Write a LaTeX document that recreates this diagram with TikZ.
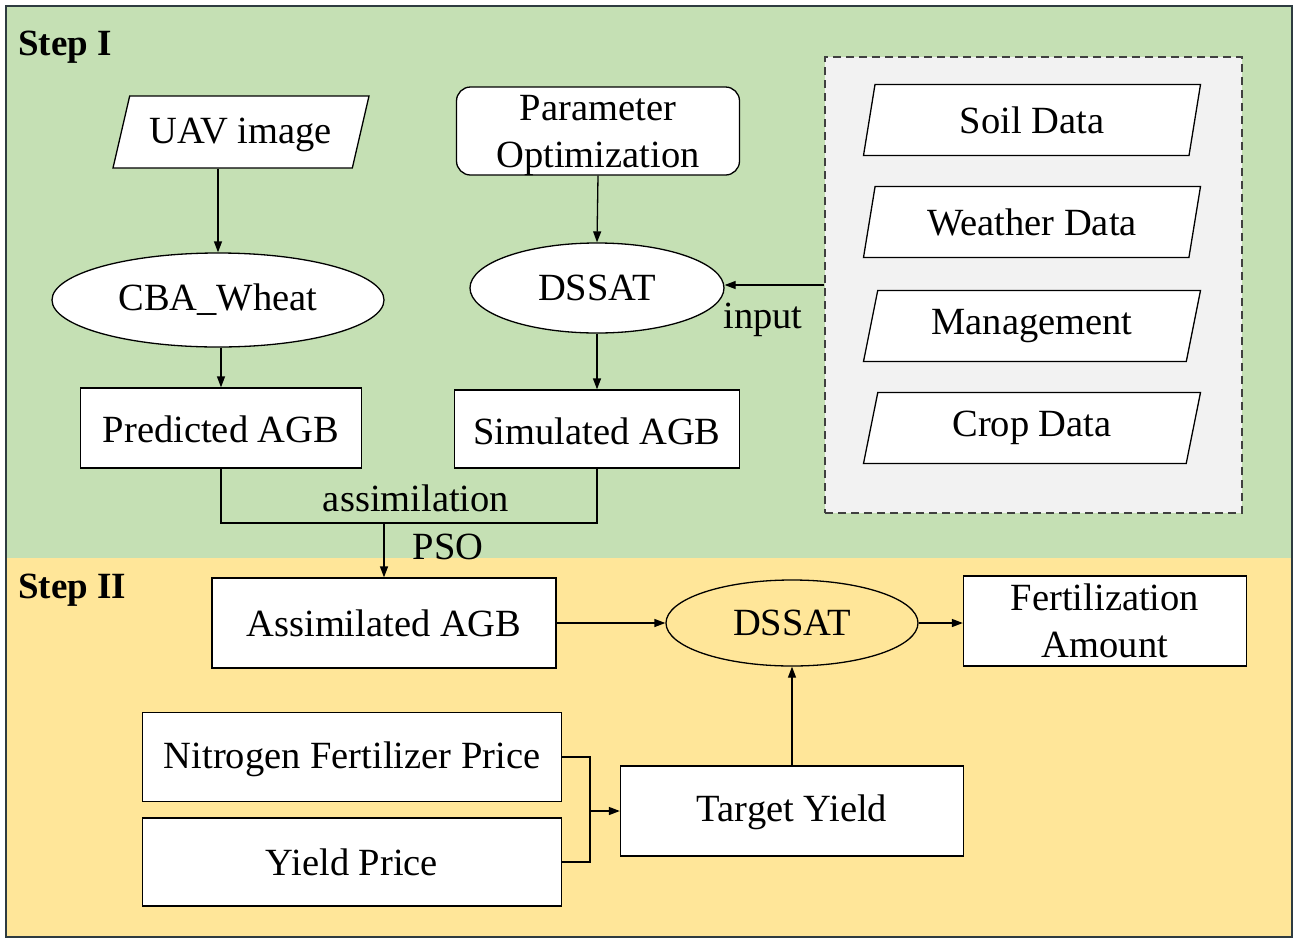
\documentclass[tikz,border=0pt]{standalone}
\usepackage{fontspec}
\setmainfont{Liberation Serif}
\usetikzlibrary{shapes.geometric,arrows.meta}
\definecolor{stepgreen}{HTML}{C5E0B4}
\definecolor{stepyellow}{HTML}{FFE699}
\definecolor{panelgray}{HTML}{F2F2F2}
\definecolor{frame}{HTML}{2E3B40}
\begin{document}
\begin{tikzpicture}[x=1pt,y=-1pt,
  every node/.style={font=\fontsize{38.5}{47}\selectfont, inner sep=0pt},
  box/.style={draw, fill=white, line width=1.3pt},
  iobox/.style={draw, fill=white, line width=1.3pt, trapezium, trapezium left angle=67, trapezium right angle=113, trapezium stretches body},
  oval/.style={draw, ellipse, line width=1.3pt},
  link/.style={line width=1.3pt},
  conn/.style={line width=1.3pt, -{Triangle[length=11pt,width=8pt]}},
  steplabel/.style={anchor=west, font=\fontsize{37}{44}\selectfont\bfseries}
]
\useasboundingbox (0,0) rectangle (1299,943);
% backgrounds
\fill[stepgreen] (6,6) rectangle (1292,558);
\fill[stepyellow] (6,558) rectangle (1292,937);
\draw[frame, line width=2pt] (6,6) rectangle (1292,937);
\node[steplabel] (s1) at (18,47) {Step I};
\node[steplabel] (s2) at (18,590) {Step II};
% input panel
\node[draw=black!75, dashed, dash pattern=on 8pt off 5pt, fill=panelgray, line width=1.3pt, minimum width=417, minimum height=456] (panel) at (1033.5,285) {};
\node[iobox, minimum width=337, minimum height=71] (soil) at (1032,120) {Soil Data};
\node[iobox, minimum width=337, minimum height=71] (weather) at (1032,222) {Weather Data};
\node[iobox, minimum width=337, minimum height=71] (mgmt) at (1032,326) {Management};
\node[iobox, minimum width=337, minimum height=71] (crop) at (1032,428) {Crop Data};
% step I
\node[iobox, minimum width=256, minimum height=72] (uav) at (241,132) {\rule{0pt}{31pt}UAV image};
\node[box, rounded corners=14pt, minimum width=283, minimum height=88] (param) at (598,131) {};
\node[align=center] (paramtext) at (598,135) {Parameter\\Optimization};
\node[oval, fill=white, minimum width=332, minimum height=94] (cba) at (218,300) {CBA\_Wheat};
\node[oval, fill=white, minimum width=254, minimum height=90] (dssat1) at (597,288) {DSSAT};
\node[box, minimum width=281, minimum height=80] (pred) at (221,428) {\rule{0pt}{30pt}Predicted AGB};
\node[box, minimum width=285, minimum height=78] (sim) at (597,429) {\rule{0pt}{31pt}Simulated AGB};
\node (assimlab) at (416,498) {assimilation};
\node (psolab) at (448,547) {PSO};
\node (inputlab) at (763,320) {input};
% step II
\node[box, minimum width=344, minimum height=90] (assim) at (384,623) {Assimilated AGB};
\node[oval, fill=stepyellow, minimum width=252, minimum height=86] (dssat2) at (792,623) {DSSAT};
\node[box, minimum width=283, minimum height=90, align=center] (fert) at (1105,621) {Fertilization\\Amount};
\node[box, minimum width=419, minimum height=89] (nit) at (352,757) {\rule{0pt}{31pt}Nitrogen Fertilizer Price};
\node[box, minimum width=419, minimum height=88] (yp) at (352,862) {Yield Price};
\node[box, minimum width=343, minimum height=90] (ty) at (792,811) {\rule{0pt}{30pt}Target Yield};
% connectors
\draw[conn] (uav.south -| cba.north) -- (cba.north);
\draw[conn] (cba.south -| pred.north) -- (pred.north);
\draw[conn] (param.south) -- (dssat1.north);
\draw[conn] (dssat1.south) -- (sim.north);
\draw[conn] (panel.west |- 0,285) -- (dssat1.east |- 0,285);
\coordinate (j) at (384,523);
\draw[link] (pred.south) -- (pred.south |- j) -- (sim.south |- j) -- (sim.south);
\draw[conn] (j) -- (assim.north);
\draw[conn] (assim.east) -- (dssat2.west);
\draw[conn] (dssat2.east) -- (fert.west |- dssat2.east);
\coordinate (m) at (590,811);
\draw[link] (nit.east) -- (nit.east -| m) -- (yp.east -| m) -- (yp.east);
\draw[conn] (m) -- (ty.west);
\draw[conn] (ty.north) -- (dssat2.south);
\end{tikzpicture}
\end{document}
